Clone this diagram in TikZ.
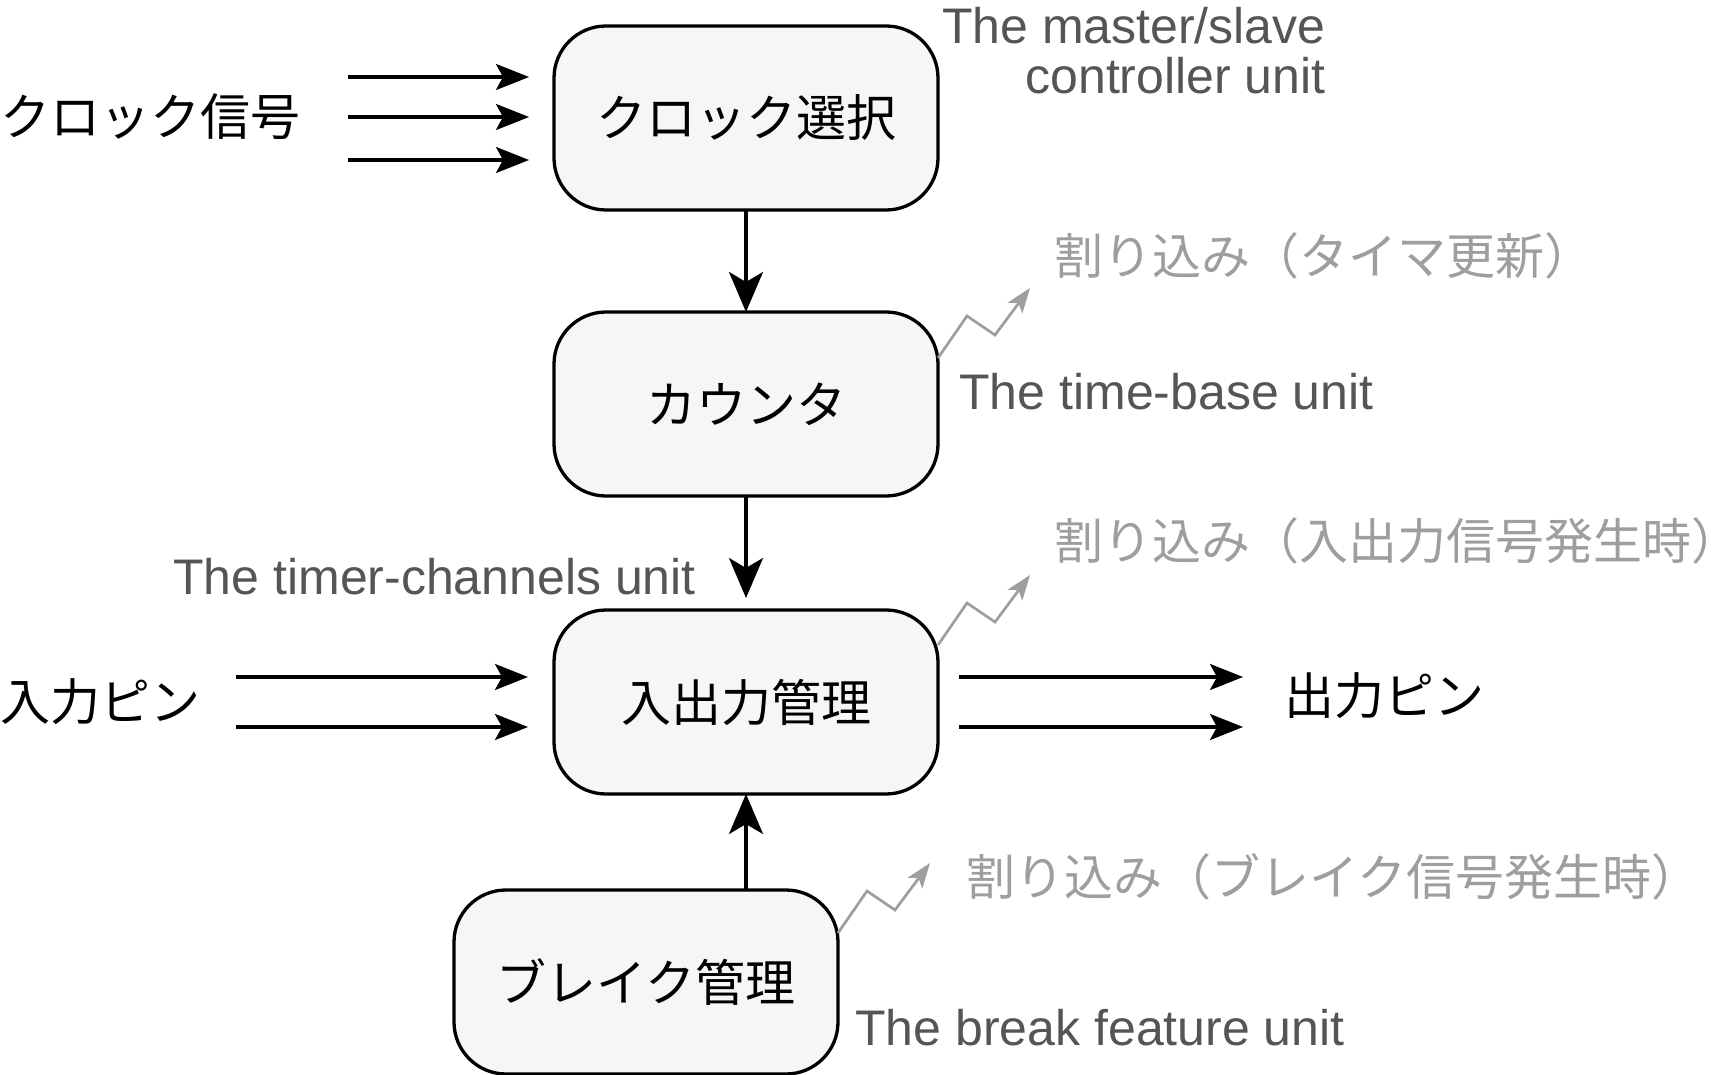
\documentclass[tikz,border=0pt]{standalone}
\usepackage{fontspec}
\setmainfont{Liberation Sans}
\newfontfamily\jpfont{Noto Sans CJK JP}
\usetikzlibrary{positioning, arrows.meta}

\definecolor{boxfill}{HTML}{F5F6F6}
\definecolor{unitgray}{HTML}{555555}
\definecolor{irqgray}{HTML}{9E9E9E}

\begin{document}
\begin{tikzpicture}[x=0.5pt, y=-0.5pt,
    block/.style={rectangle, rounded corners=26pt, draw, line width=1.65pt, fill=boxfill,
      minimum width=192pt, minimum height=92pt, outer sep=0pt,
      font=\jpfont\fontsize{25pt}{29pt}\selectfont},
    jptext/.style={font=\jpfont\fontsize{25pt}{29pt}\selectfont, inner sep=0pt},
    unit/.style={font=\fontsize{25pt}{25pt}\selectfont, text=unitgray, inner sep=0pt},
    irq/.style={font=\jpfont\fontsize{24.5pt}{29pt}\selectfont, inner sep=0pt, text=irqgray},
    sig/.style={-{Stealth[length=16.5pt, width=13pt, inset=3.5pt]}, line width=1.65pt},
    flow/.style={-{Stealth[length=20pt, width=17pt, inset=5pt]}, line width=1.65pt},
    zig/.style={-{Stealth[length=12.5pt, width=9pt, inset=3pt]}, line width=1.35pt, draw=irqgray}]
  \useasboundingbox (0,0) rectangle (1733,1075);

  % blocks
  \node[block] (sel) at (746,118) {クロック選択};
  \node[block, below=51pt of sel] (cnt) {カウンタ};
  \node[block, below=57pt of cnt] (io) {入出力管理};
  \node[block, below=48pt of io, xshift=-50pt] (brk) {ブレイク管理};

  % clock inputs
  \node[jptext, anchor=west] (clk) at (0,117) {クロック信号};
  \coordinate (clk1) at (348,77);
  \coordinate (clk2) at (348,117);
  \coordinate (clk3) at (348,160);
  \draw[sig, shorten >=12.5pt] (clk1) -- (clk1 -| sel.west);
  \draw[sig, shorten >=12.5pt] (clk2) -- (clk2 -| sel.west);
  \draw[sig, shorten >=12.5pt] (clk3) -- (clk3 -| sel.west);

  \draw[flow] (sel) -- (cnt);
  \draw[flow, shorten >=6pt] (cnt) -- (io);
  \draw[flow] (io.south |- brk.north) -- (io.south);

  % pins
  \node[jptext, anchor=west] (inpin) at (0,702) {入力ピン};
  \coordinate (in1) at (236,677);
  \coordinate (in2) at (236,727);
  \draw[sig, shorten >=13pt] (in1) -- (in1 -| io.west);
  \draw[sig, shorten >=13pt] (in2) -- (in2 -| io.west);

  \node[jptext, anchor=west] (outpin) at (1284,696) {出力ピン};
  \coordinate (out1) at (1243,677);
  \coordinate (out2) at (1243,727);
  \draw[sig, shorten <=10.5pt] (out1 -| io.east) -- (out1);
  \draw[sig, shorten <=10.5pt] (out2 -| io.east) -- (out2);

  % unit names
  \node[unit, anchor=north east, align=right] (msl) at (1326,7) {The master/slave\\controller unit};
  \node[unit, anchor=base west] (tbl) at (959,409) {The time-base unit};
  \node[unit, anchor=base west] (tcl) at (173,594) {The timer-channels unit};
  \node[unit, anchor=base west] (bfl) at (855,1045) {The break feature unit};

  % interrupts
  \draw[zig] ([yshift=-23pt]cnt.north east) -- ++(29,-42) -- ++(28,19) -- ++(35,-47) coordinate (irq1);
  \draw[zig] ([yshift=-17.5pt]io.north east) -- ++(29,-42) -- ++(28,19) -- ++(35,-47) coordinate (irq2);
  \draw[zig] ([yshift=-21.5pt]brk.north east) -- ++(29,-42) -- ++(28,19) -- ++(35,-47) coordinate (irq3);
  \node[irq, anchor=west] (irqtb) at (1054,256) {割り込み（タイマ更新）};
  \node[irq, anchor=west] (irqio) at (1054,541) {割り込み（入出力信号発生時）};
  \node[irq, anchor=west] (irqbk) at (966,877) {割り込み（ブレイク信号発生時）};
\end{tikzpicture}
\end{document}
